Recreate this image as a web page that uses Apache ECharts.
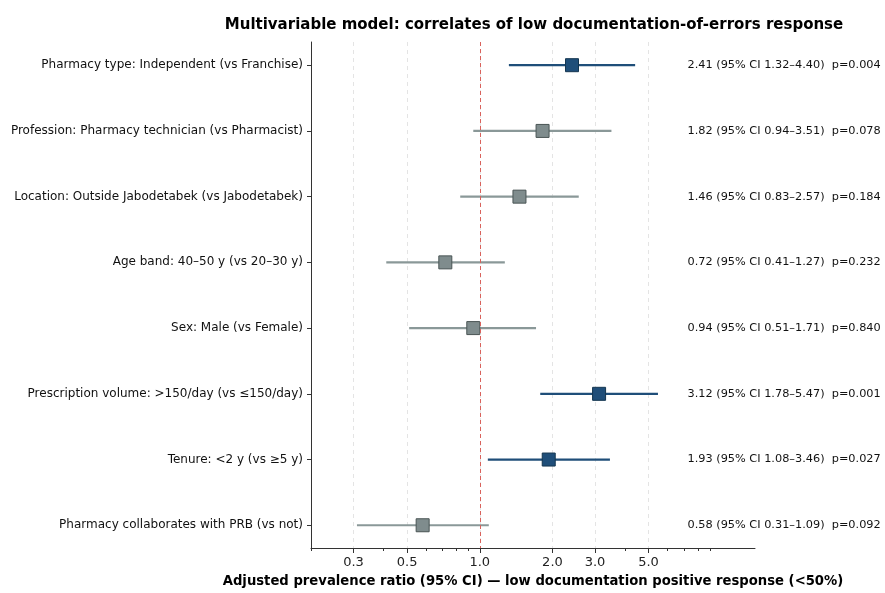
<!DOCTYPE html>
<html>
<head>
<meta charset="utf-8">
<script src="https://cdn.jsdelivr.net/npm/echarts@6/dist/echarts.min.js"></script>
<style>html,body{margin:0;padding:0;background:#fff}#c{width:885px;height:593px}</style>
</head>
<body>
<div id="c"></div>
<script>
const labels = [
  "Pharmacy type: Independent (vs Franchise)",
  "Profession: Pharmacy technician (vs Pharmacist)",
  "Location: Outside Jabodetabek (vs Jabodetabek)",
  "Age band: 40\u201350 y (vs 20\u201330 y)",
  "Sex: Male (vs Female)",
  "Prescription volume: >150/day (vs \u2264150/day)",
  "Tenure: <2 y (vs \u22655 y)",
  "Pharmacy collaborates with PRB (vs not)"
];
const estimates = [2.41, 1.82, 1.46, 0.72, 0.94, 3.12, 1.93, 0.58];
const ciLow  = [1.32, 0.94, 0.83, 0.41, 0.51, 1.78, 1.08, 0.31];
const ciHigh = [4.40, 3.51, 2.57, 1.27, 1.71, 5.47, 3.46, 1.09];
const pValues = ["0.004", "0.078", "0.184", "0.232", "0.840", "0.001", "0.027", "0.092"];
const majorTicks = [0.3, 0.5, 1.0, 2.0, 3.0, 5.0];
const minorTicks = [0.2, 0.4, 0.6, 0.7, 0.8, 0.9, 4, 6, 7, 8, 9];
const xMin = 0.2, xMax = 13.8;

const L = Math.log10;
const FONT = '"DejaVu Sans", sans-serif';
const BLUE = '#1f4e79', BLUE_EDGE = '#143650';
const GRAY = '#7f8c8d', GRAY_LINE = '#8a9898', GRAY_EDGE = '#4a5555';

const rows = estimates.map((e, i) => [i, L(ciLow[i]), L(e), L(ciHigh[i])]);

const chart = echarts.init(document.getElementById('c'), null, {renderer: 'canvas'});
chart.setOption({
  animation: false,
  title: {
    text: 'Multivariable model: correlates of low documentation-of-errors response',
    left: 529, top: 13, textAlign: 'center',
    textStyle: {fontFamily: FONT, fontSize: 15, fontWeight: 'bold', color: '#000'}
  },
  grid: {left: 311, right: 130, top: 42, bottom: 39},
  xAxis: [{
    type: 'value', min: L(xMin), max: L(xMax),
    name: 'Adjusted prevalence ratio (95% CI) \u2014 low documentation positive response (<50%)',
    nameLocation: 'middle', nameGap: 27,
    nameTextStyle: {fontFamily: FONT, fontSize: 13.2, fontWeight: 'bold', color: '#000'},
    axisLine: {show: true, onZero: false, lineStyle: {color: '#333', width: 1}},
    axisTick: {show: true, length: 5, lineStyle: {color: '#333'}, customValues: majorTicks.map(L)},
    axisLabel: {customValues: majorTicks.map(L), formatter: v => Math.pow(10, v).toFixed(1),
      fontFamily: FONT, fontSize: 13, color: '#222', margin: 8},
    splitLine: {show: true, lineStyle: {color: '#e4e4e4', type: [4, 4], width: 1}}
  }, {
    type: 'value', min: L(xMin), max: L(xMax), position: 'bottom',
    axisLine: {show: false, onZero: false},
    axisTick: {show: true, length: 3, lineStyle: {color: '#333'}, customValues: minorTicks.map(L)},
    axisLabel: {show: false}, splitLine: {show: false}
  }],
  yAxis: {
    type: 'value', inverse: true, min: -0.353, max: 7.346,
    axisLine: {show: true, onZero: false, lineStyle: {color: '#333', width: 1}},
    axisTick: {show: true, length: 4, lineStyle: {color: '#333'}, customValues: labels.map((_, i) => i)},
    axisLabel: {customValues: labels.map((_, i) => i), formatter: v => labels[Math.round(v)],
      fontFamily: FONT, fontSize: 12, color: '#111', margin: 8},
    splitLine: {show: false}
  },
  series: [{
    type: 'custom',
    data: rows,
    encode: {x: [1, 2, 3], y: 0},
    renderItem: function (params, api) {
      const i = api.value(0);
      const lo = api.coord([api.value(1), i]);
      const mid = api.coord([api.value(2), i]);
      const hi = api.coord([api.value(3), i]);
      const sig = ciLow[i] > 1 || ciHigh[i] < 1;
      const lineColor = sig ? BLUE : GRAY_LINE;
      const fill = sig ? BLUE : GRAY;
      const edge = sig ? BLUE_EDGE : GRAY_EDGE;
      const s = 13;
      const cs = params.coordSys;
      return {
        type: 'group',
        children: [
          {type: 'line', shape: {x1: lo[0], y1: lo[1], x2: hi[0], y2: hi[1]},
           style: {stroke: lineColor, lineWidth: 2.2}},
          {type: 'rect', shape: {x: mid[0] - s / 2, y: mid[1] - s / 2, width: s, height: s},
           style: {fill: fill, stroke: edge, lineWidth: 1}},
          {type: 'text', x: cs.x + cs.width * 0.848, y: mid[1],
           style: {text: estimates[i].toFixed(2) + ' (95% CI ' + ciLow[i].toFixed(2) + '\u2013' + ciHigh[i].toFixed(2) + ')  p=' + pValues[i],
             fontFamily: FONT, fontSize: 11.3, fill: '#111', verticalAlign: 'middle', align: 'left'}}
        ]
      };
    },
    markLine: {
      silent: true, symbol: 'none', label: {show: false},
      lineStyle: {color: '#d9625c', type: [4, 3], width: 1},
      data: [{xAxis: 0}]
    },
    z: 3
  }]
});
</script>
</body>
</html>
